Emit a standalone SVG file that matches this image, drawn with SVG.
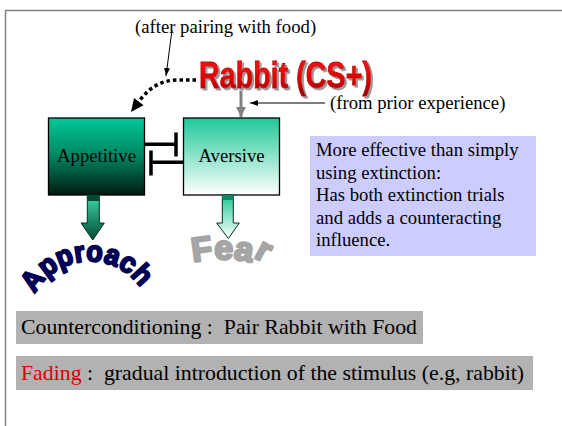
<svg xmlns="http://www.w3.org/2000/svg" width="562" height="426" viewBox="0 0 562 426">
<style>
.t{font-family:"Liberation Serif","Times New Roman",serif;font-size:18.7px;fill:#000;white-space:pre}
.big{font-family:"Liberation Serif","Times New Roman",serif;font-size:21.8px;fill:#000;white-space:pre}
.box{stroke:#000;stroke-width:1.3}
.inh{stroke:#000;stroke-width:3.5;fill:none}
.thin{stroke:#000;stroke-width:1;fill:none}
.fear{font-family:"Liberation Sans",Arial,sans-serif;font-weight:bold;font-size:34px;fill:#A8A8A8;stroke:#A4A4A4;stroke-width:2.4;stroke-linejoin:round}
</style>
<defs>
<linearGradient id="gApp" x1="0" y1="0" x2="0" y2="1">
<stop offset="0" stop-color="#00C896"/><stop offset="0.5" stop-color="#008460"/><stop offset="1" stop-color="#001A10"/>
</linearGradient>
<linearGradient id="gAv" x1="0" y1="0" x2="0" y2="1">
<stop offset="0" stop-color="#1FC898"/><stop offset="1" stop-color="#FFFFFF"/>
</linearGradient>
<linearGradient id="gArrA" x1="0" y1="0" x2="0" y2="1">
<stop offset="0" stop-color="#40D8A8"/><stop offset="1" stop-color="#004A34"/>
</linearGradient>
<linearGradient id="gArrF" x1="0" y1="0" x2="0" y2="1">
<stop offset="0" stop-color="#20C898"/><stop offset="1" stop-color="#FFFFFF"/>
</linearGradient>
<linearGradient id="gRed" x1="0" y1="0" x2="0" y2="1">
<stop offset="0" stop-color="#FF1A1A"/><stop offset="0.6" stop-color="#E00000"/><stop offset="1" stop-color="#8A0000"/>
</linearGradient>
<filter id="shadow" x="-5%" y="-10%" width="115%" height="130%">
<feDropShadow dx="2" dy="2" stdDeviation="0.4" flood-color="#9A9A9A" flood-opacity="1"/>
</filter>
<marker id="mThin" markerUnits="userSpaceOnUse" markerWidth="8" markerHeight="6" refX="8" refY="3" orient="auto">
<path d="M0,0 L8,3 L0,6 z" fill="#000"/>
</marker>
<marker id="mGray" markerUnits="userSpaceOnUse" markerWidth="10" markerHeight="10" refX="10" refY="5" orient="auto">
<path d="M0,0 L10,5 L0,10 z" fill="#808080"/>
</marker>
<path id="arcApp" d="M35,294 A62,62 0 0 1 140,287"/>
</defs>
<rect width="562" height="426" fill="#fff"/>
<path d="M5.5,426 V10.5 H562" fill="none" stroke="#808080" stroke-width="1.5"/>

<g id="label-after">
<text class="t" x="135" y="33">(after pairing with food)</text>
</g>

<g id="rabbit">
<text x="199" y="88" font-family="'Liberation Sans',Arial,sans-serif" font-weight="bold" font-size="36" textLength="173" lengthAdjust="spacingAndGlyphs" fill="url(#gRed)" stroke="#C00000" stroke-width="0.8" filter="url(#shadow)">Rabbit (CS+)</text>
</g>

<g id="label-prior">
<text class="t" x="330" y="109">(from prior experience)</text>
</g>

<g id="appetitive">
<rect class="box" x="48.5" y="118" width="96" height="77" fill="url(#gApp)"/>
<text class="t" x="96.5" y="162" text-anchor="middle">Appetitive</text>
</g>

<g id="aversive">
<rect class="box" x="183.5" y="118" width="96" height="77" fill="url(#gAv)"/>
<text class="t" x="231.5" y="162" text-anchor="middle">Aversive</text>
</g>

<g id="note">
<rect x="310" y="136" width="226" height="120" fill="#CCCCFF"/>
<text class="t" x="316" y="156">More effective than simply</text>
<text class="t" x="316" y="178.5">using extinction:</text>
<text class="t" x="316" y="201">Has both extinction trials</text>
<text class="t" x="316" y="223.5">and adds a counteracting</text>
<text class="t" x="316" y="246">influence.</text>
</g>

<g id="approach">
<text font-family="'Liberation Sans',Arial,sans-serif" font-weight="bold" font-size="29" fill="#000066" stroke="#00004A" stroke-width="2" stroke-linejoin="round"><textPath href="#arcApp" textLength="126" lengthAdjust="spacingAndGlyphs">Approach</textPath></text>
</g>

<g id="fear" class="fear">
<text transform="translate(193,262) rotate(-8)">F</text>
<text transform="translate(214,259) rotate(2)">e</text>
<text transform="translate(233,259) rotate(10)">a</text>
<text transform="translate(253,257) rotate(28)">r</text>
</g>

<g id="counter">
<rect x="16" y="311" width="407" height="33" fill="#B2B2B2"/>
<text class="big" x="21" y="334">Counterconditioning :  Pair Rabbit with Food</text>
</g>

<g id="fading">
<rect x="16" y="356" width="517" height="34" fill="#B2B2B2"/>
<text class="big" x="21" y="380"><tspan fill="#E00000">Fading</tspan> :  gradual introduction of the stimulus (e.g, rabbit)</text>
</g>

<g id="connectors">
<line class="thin" x1="172" y1="30" x2="166" y2="76" marker-end="url(#mThin)"/>
<path d="M196,80 L178,80 C162,80 150,87 140,100" fill="none" stroke="#000" stroke-width="3.5" stroke-dasharray="3.5 3"/>
<path d="M131,112 L143.6,105.2 L134,98 z" fill="#000"/>
<line x1="241" y1="91" x2="241" y2="117" stroke="#808080" stroke-width="3" marker-end="url(#mGray)"/>
<line class="thin" x1="325" y1="103" x2="250" y2="103" marker-end="url(#mThin)"/>
<path class="inh" d="M144.5,144.3 H176 M176,132.5 V156.5"/>
<path class="inh" d="M183.5,162.3 H151 M151,150.5 V175.5"/>
<path d="M87.3,195 H99.3 V223 H104.3 L92.8,240 L81,223 H87.3 z" fill="url(#gArrA)" stroke="#003020" stroke-width="1"/>
<rect x="87.3" y="195" width="12" height="6" fill="#004a34"/>
<path d="M222.3,195 H233.3 V223 H239.3 L228.3,238.5 L216.7,223 H222.3 z" fill="url(#gArrF)" stroke="#003020" stroke-width="1"/>
<rect x="222.3" y="195" width="11" height="5" fill="#0a8a66"/>
</g>
</svg>
